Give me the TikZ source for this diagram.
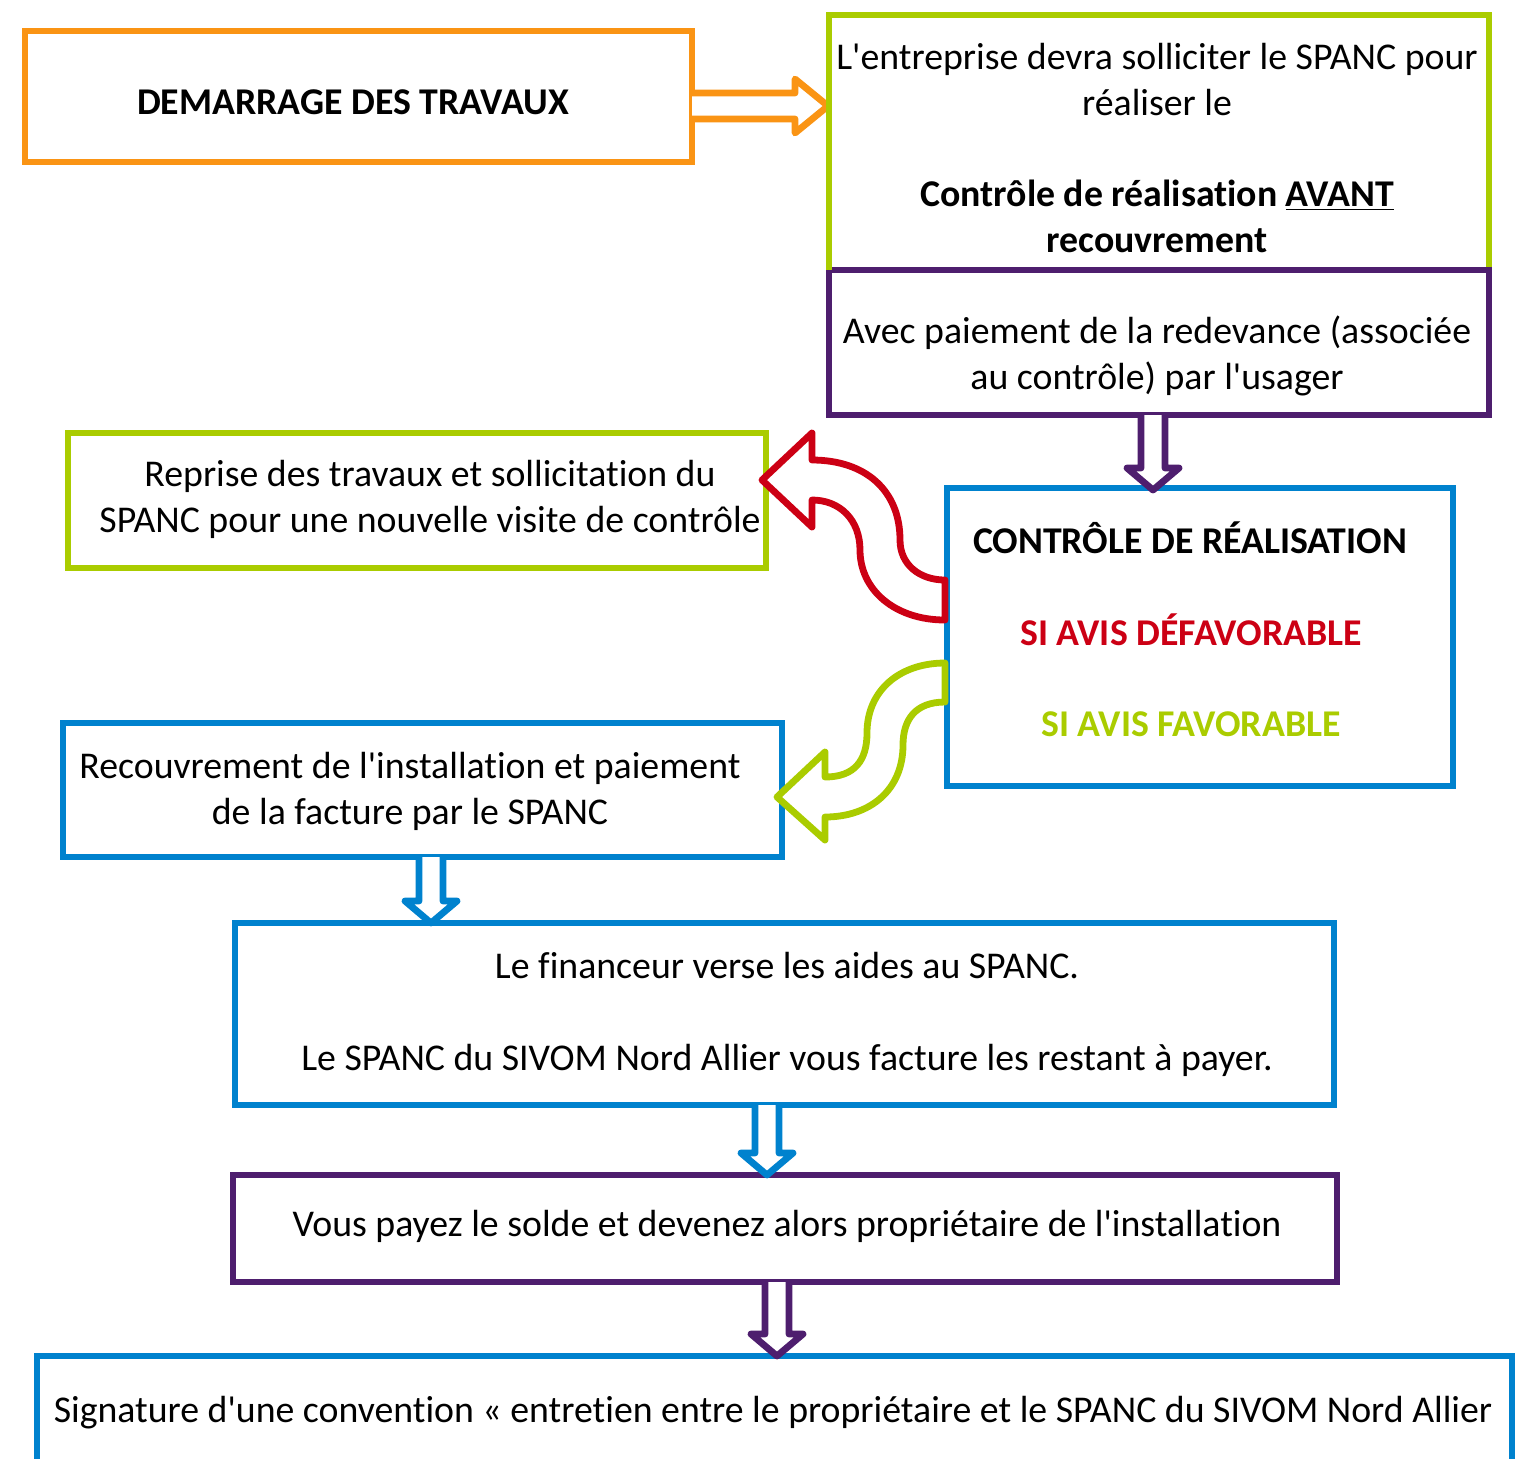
\documentclass[tikz,border=0pt]{standalone}
\usepackage{fontspec}
\setmainfont{Carlito}[Ligatures={TeXOff,CommonOff}]
\usetikzlibrary{calc}
\definecolor{cOrange}{RGB}{250,148,20}
\definecolor{cGreen}{RGB}{170,204,0}
\definecolor{cPurple}{RGB}{78,30,110}
\definecolor{cBlue}{RGB}{0,130,206}
\definecolor{cRed}{RGB}{204,0,20}
\begin{document}
\begin{tikzpicture}[x=0.5pt,y=-0.5pt,
  box/.style={draw, line width=3pt, inner sep=0pt, outer sep=0pt},
  txt/.style={font=\fontsize{18.9}{23}\selectfont, align=center, inner sep=0pt, text=black},
  barrow/.style={line width=3.4pt, line join=round, fill=white},
  pics/darrow/.style args={#1/#2}{code={
    \draw[barrow, draw=#2] (-12,0) -- (-12,#1-22) -- (-26,#1-22) -- (0,#1) -- (26,#1-22) -- (12,#1-22) -- (12,0);
  }}]
\useasboundingbox (0,0) rectangle (1519,1458);
\clip (0,0) rectangle (1519,1458);

% boxes
\node[box, draw=cOrange, minimum width=667*0.5pt, minimum height=131*0.5pt] (b1) at (358.5,96.5) {};
\node[box, draw=cGreen, minimum width=660*0.5pt, minimum height=255*0.5pt] (b2) at (1159,142.5) {};
\node[box, draw=cPurple, minimum width=660*0.5pt, minimum height=145*0.5pt] (b3) at (1159,342.5) {};
\node[box, draw=cGreen, minimum width=698*0.5pt, minimum height=135*0.5pt] (b4) at (417,500.5) {};
\node[box, draw=cBlue, minimum width=506*0.5pt, minimum height=298*0.5pt] (b5) at (1200,637) {};
\node[box, draw=cBlue, minimum width=719*0.5pt, minimum height=134*0.5pt] (b6) at (422.5,790) {};
\node[box, draw=cBlue, minimum width=1099*0.5pt, minimum height=182*0.5pt] (b7) at (784.5,1014) {};
\node[box, draw=cPurple, minimum width=1104*0.5pt, minimum height=107*0.5pt] (b8) at (785,1228.5) {};
\node[box, draw=cBlue, minimum width=1475*0.5pt, minimum height=164*0.5pt] (b9) at (774.5,1438) {};

% texts
\node[txt] (t1) at (353,102) {\textbf{DEMARRAGE DES TRAVAUX}};
\node[txt] (t2a) at (1157,79.5) {L'entreprise devra solliciter le SPANC pour\\réaliser le};
\node[txt] (t2b) at (1157,216) {\textbf{Contrôle de réalisation \underline{AVANT}}\\\textbf{recouvrement}};
\node[txt] (t3) at (1157,356) {Avec paiement de la redevance (associée\\au contrôle) par l'usager};
\node[txt] (t4) at (430,499) {Reprise des travaux et sollicitation du\\SPANC pour une nouvelle visite de contrôle};
\node[txt] (t5a) at (1190,537.5) {\textbf{CONTRÔLE DE RÉALISATION}};
\node[txt, text=cRed] (t5b) at (1191,629.5) {\textbf{SI AVIS DÉFAVORABLE}};
\node[txt, text=cGreen] (t5c) at (1191,724) {\textbf{SI AVIS FAVORABLE}};
\node[txt] (t6) at (410,791.5) {Recouvrement de l'installation et paiement\\de la facture par le SPANC};
\node[txt] (t7a) at (787,966) {Le financeur verse les aides au SPANC.};
\node[txt] (t7b) at (787,1060) {Le SPANC du SIVOM Nord Allier vous facture les restant à payer.};
\node[txt] (t8) at (787,1226) {Vous payez le solde et devenez alors propriétaire de l'installation};
\node[txt] (t9) at (773,1413) {Signature d'une convention « entretien entre le propriétaire et le SPANC du SIVOM Nord Allier};

% orange right block arrow
\begin{scope}[shift={($(b1.east)+(0,9.5)$)}]
\draw[barrow, draw=cOrange] (0,-13) -- (103,-13) -- (103,-27) -- (136,0) -- (103,27) -- (103,13) -- (0,13);
\end{scope}
\draw[box, draw=cGreen] (b2.north west) -- (b2.south west);

% down block arrows
\pic at ($(b3.south)+(-6,0)$) {darrow={75/cPurple}};
\pic at ($(b6.south)+(8.5,0)$) {darrow={66/cBlue}};
\pic at ($(b7.south)+(-17.5,0)$) {darrow={70/cBlue}};
\pic at ($(b8.south)+(-8,0)$) {darrow={74/cPurple}};

% curved arrows
\begin{scope}[shift={(b5.west)}]
\draw[barrow, draw=cRed] (-185,-157) -- (-135,-204) -- (-135,-177)
  .. controls (-82,-177) and (-47,-147) .. (-47,-97)
  .. controls (-47,-72) and (-27,-57) .. (-2,-57) -- (-2,-17)
  .. controls (-52,-17) and (-87,-47) .. (-87,-87)
  .. controls (-87,-117) and (-107,-137) .. (-135,-137) -- (-135,-110) -- cycle;
\draw[barrow, draw=cGreen] (-170,160) -- (-122,115) -- (-122,140)
  .. controls (-92,140) and (-80,123) .. (-80,96)
  .. controls (-80,53) and (-47,26) .. (-2,26) -- (-2,65)
  .. controls (-32,65) and (-44,83) .. (-44,108)
  .. controls (-44,153) and (-77,180) .. (-122,180) -- (-122,203) -- cycle;
\end{scope}
\end{tikzpicture}
\end{document}
